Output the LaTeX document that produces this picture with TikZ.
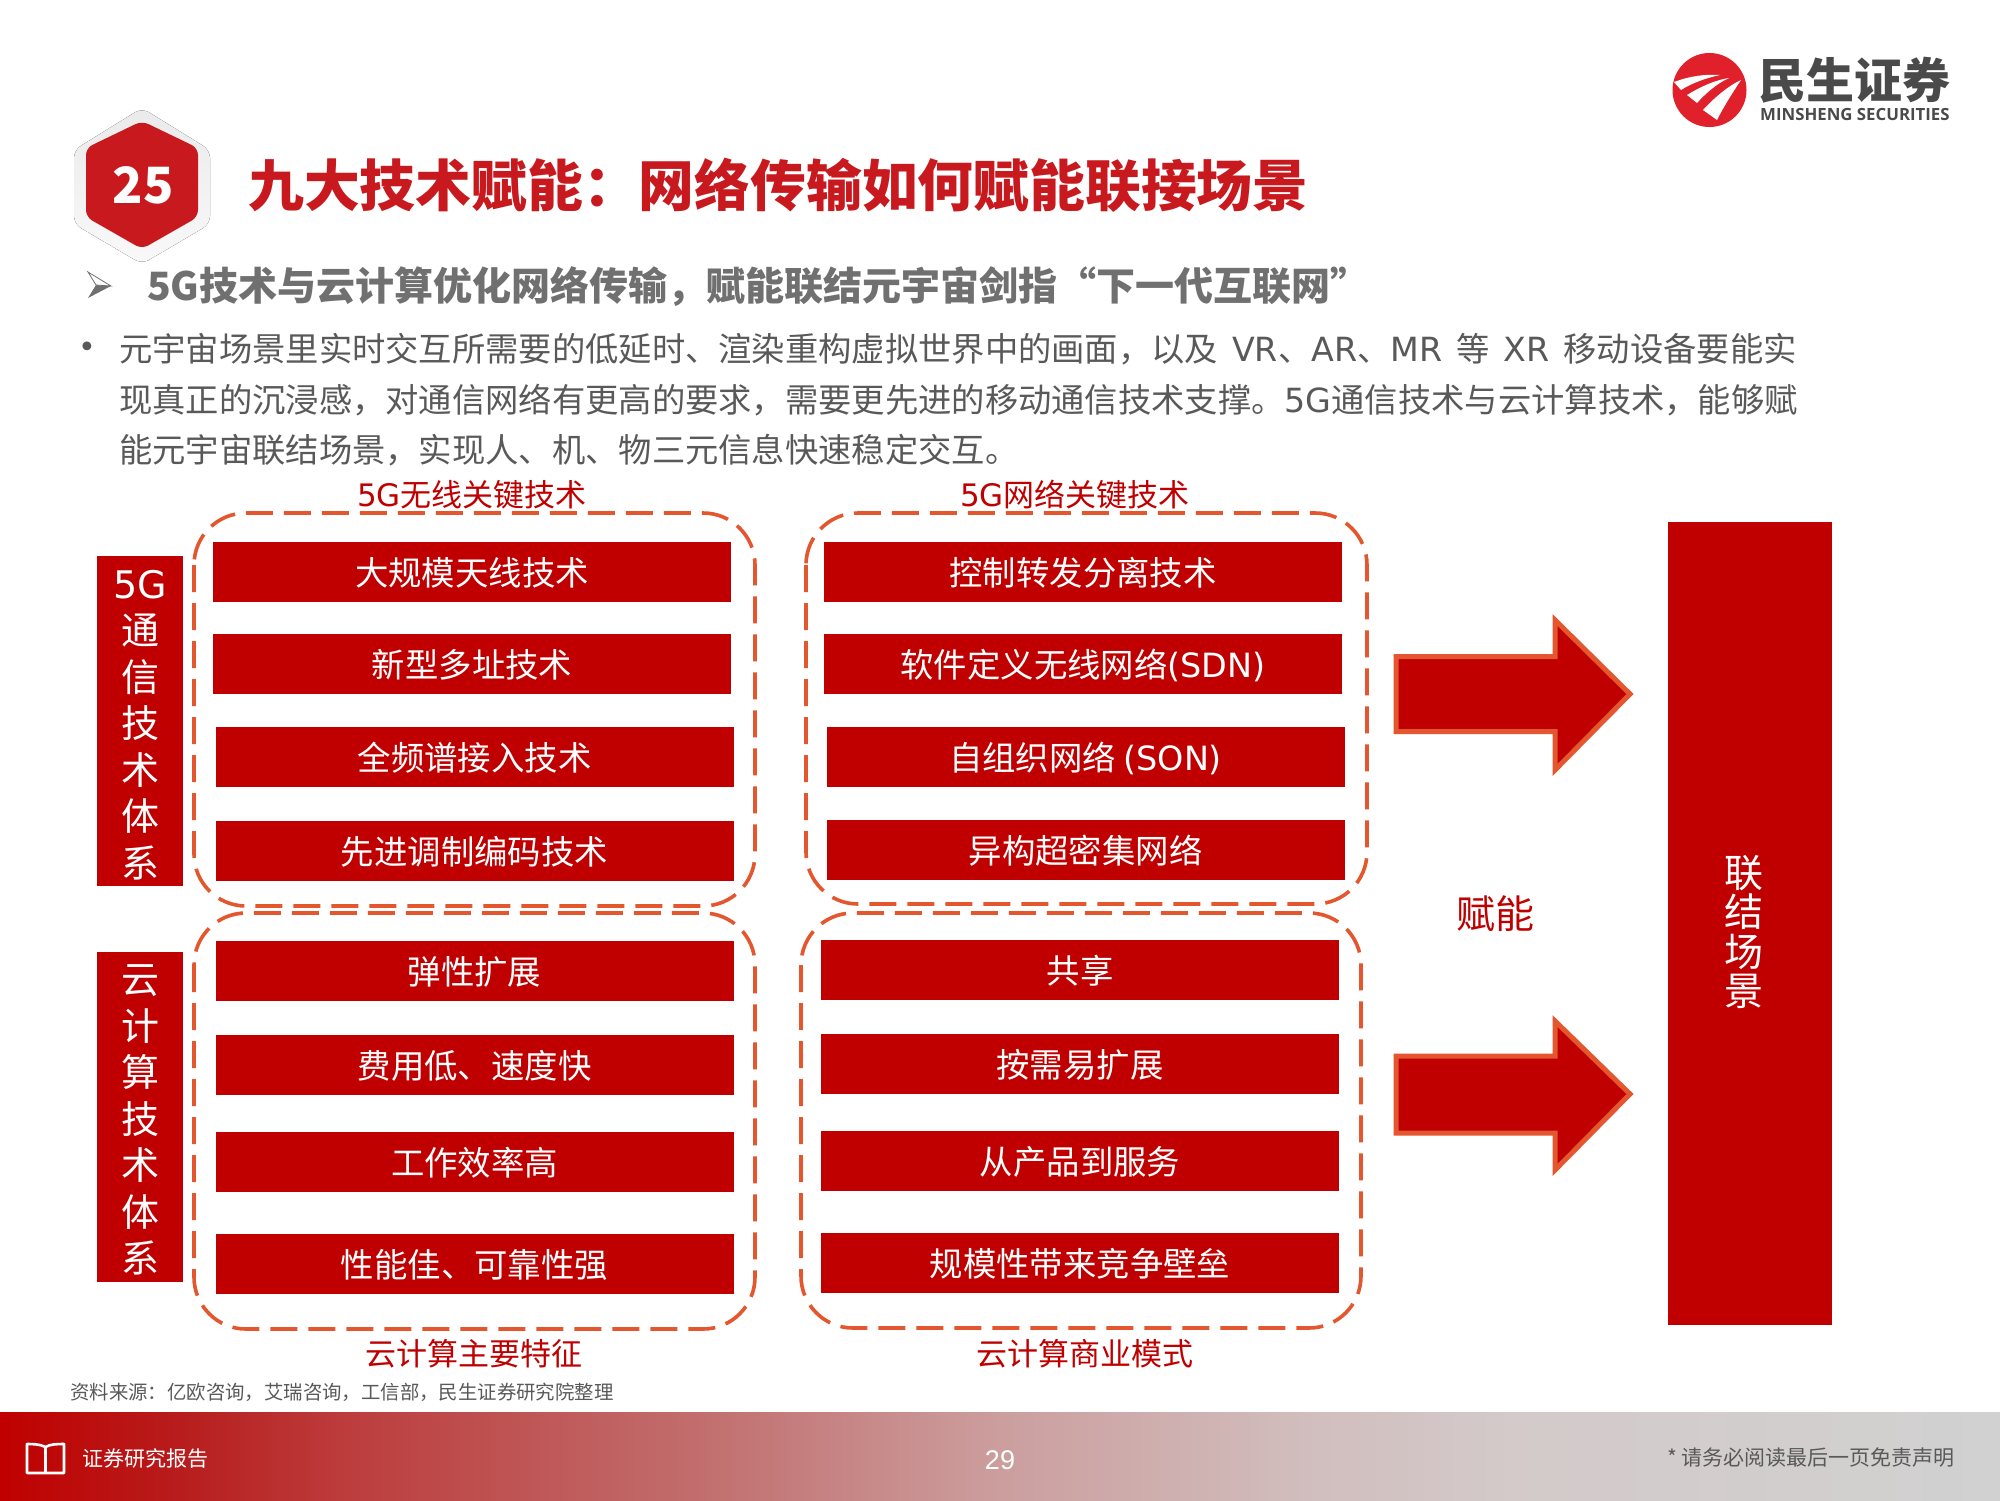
\documentclass[tikz,border=0pt]{standalone}
\usepackage{fontspec}
\setmainfont{Noto Sans CJK SC}
\newfontfamily\dv{DejaVu Sans}
\newfontfamily\arial{Liberation Sans}
\newfontfamily\opsans{Open Sans}
\definecolor{brick}{HTML}{C00000}
\definecolor{dashc}{HTML}{E4572E}
\definecolor{titlec}{HTML}{C8191E}
\definecolor{subc}{HTML}{707070}
\definecolor{bodyc}{HTML}{595959}
\definecolor{logoc}{HTML}{E0202A}
\definecolor{logot}{HTML}{4A4A4A}
\pgfdeclarehorizontalshading{footshade}{100bp}{
  rgb(0bp)=(.753,0,0);
  rgb(25bp)=(.753,0,0);
  rgb(29.4bp)=(.72,.11,.11);
  rgb(33.75bp)=(.74,.24,.24);
  rgb(42.5bp)=(.76,.43,.43);
  rgb(50bp)=(.80,.62,.62);
  rgb(57.5bp)=(.82,.74,.74);
  rgb(62.5bp)=(.83,.79,.79);
  rgb(75bp)=(.82,.82,.82);
  rgb(100bp)=(.82,.82,.82)}
\newcommand{\fs}[1]{\fontsize{#1}{#1}\selectfont}
\newcommand{\fsl}[2]{\fontsize{#1}{#2}\selectfont}
\tikzset{
  bar/.style={fill=brick,text=white,minimum width=518pt,minimum height=60pt,inner sep=0pt,text height=30pt,text depth=3pt,font=\fs{33.4}},
  sidebar/.style={fill=brick,minimum width=86pt,minimum height=330pt,inner sep=0pt},
  sidetext/.style={text=white,inner sep=0pt,align=center,font=\fsl{38}{46.5}},
  dashbox/.style={draw=dashc,line width=3.6pt,rounded corners=52pt,dash pattern=on 27pt off 11pt},
  grouplabel/.style={text=brick,inner sep=0pt,font=\fs{31}},
  bodyline/.style={text=bodyc,anchor=west,inner sep=0pt,font=\fs{33.3}},
  bigarrow/.style={fill=brick,draw=dashc,line width=5pt,miter limit=10},
}
\begin{document}
\begin{tikzpicture}[x=1pt,y=-1pt]
\useasboundingbox (0,0) rectangle (2000,1500);
\fill[white] (0,0) rectangle (2000,1500);
% logo
\fill[logoc] (1709.5,90) circle (37);
\fill[white] (1674,82) .. controls (1690,76) and (1705,74) .. (1720,75) .. controls (1706,78) and (1692,83) .. (1681,90) -- cycle;
\fill[white] (1687,95) .. controls (1700,87) and (1715,80) .. (1729,78) .. controls (1716,84) and (1705,94) .. (1697,103) -- cycle;
\fill[white] (1703,110) .. controls (1714,98) and (1728,86) .. (1741,80) .. controls (1733,92) and (1724,106) .. (1717,120) -- cycle;
\node (logocn) [text=logot,inner sep=0pt,anchor=west,font=\fs{48}\bfseries] at (1758,80) {民生证券};
\node (logoen) [text=logot,inner sep=0pt,anchor=west,font=\opsans\fs{16.8}\bfseries] at (1760,114.5) {MINSHENG SECURITIES};
% hexagon
\fill[top color=gray!16,bottom color=gray!5,rounded corners=8pt] (142,108) -- (210,150) -- (210,224) -- (142,264) -- (74,224) -- (74,150) -- cycle;
\fill[titlec,rounded corners=7pt] (142,121) -- (198,148) -- (198,217) -- (142,249) -- (86,217) -- (86,148) -- cycle;
\node (num) [text=white,inner sep=0pt,font=\fs{50}\bfseries] at (143,185) {25};
% heading
\node (title) [text=titlec,anchor=west,inner sep=0pt,font=\fs{55.8}\bfseries] at (248,185) {九大技术赋能：网络传输如何赋能联接场景};
\fill[subc] (88,298) -- (96,285) -- (111,286) -- cycle;
\draw[subc,line width=0.8pt,fill=white] (88,272) -- (111,286) -- (96,285) -- cycle;
\node (sub) [text=subc,anchor=west,inner sep=0pt,font=\fs{39}\bfseries] at (147,287) {5G技术与云计算优化网络传输，赋能联结元宇宙剑指“下一代互联网”};
\node (dot) [text=bodyc,inner sep=0pt,font=\dv\fs{30}] at (87,350) {•};
\node (l1) [bodyline] at (119,349.5) {元宇宙场景里实时交互所需要的低延时、渲染重构虚拟世界中的画面，以及\hskip 14pt{\dv VR}、{\dv AR}、{\dv MR}\hskip 14pt 等\hskip 14pt{\dv XR}\hskip 14pt 移动设备要能实};
\node (l2) [bodyline] at (119,400.5) {现真正的沉浸感，对通信网络有更高的要求，需要更先进的移动通信技术支撑。{\dv 5G}通信技术与云计算技术，能够赋};
\node (l3) [bodyline] at (119,450) {能元宇宙联结场景，实现人、机、物三元信息快速稳定交互。};
% dashed groups
\draw[dashbox] (194,513) rectangle (755,906);
\draw[dashbox] (806,513) rectangle (1367,904);
\draw[dashbox] (194,913) rectangle (755,1329);
\draw[dashbox] (801,913) rectangle (1361,1328);
% group labels
\node (g1) [grouplabel] at (472,495) {{\dv 5G}无线关键技术};
\node (g2) [grouplabel] at (1075,495) {{\dv 5G}网络关键技术};
\node (g3) [grouplabel] at (474,1354) {云计算主要特征};
\node (g4) [grouplabel] at (1085,1354) {云计算商业模式};
% side bars
\node (s1) [sidebar] at (140,721) {};
\node (s1t) [sidetext] at (140,725) {{\dv 5G}\\通\\信\\技\\术\\体\\系};
\node (s2) [sidebar] at (140,1117) {};
\node (s2t) [sidetext] at (140,1120) {云\\计\\算\\技\\术\\体\\系};
% column 1
\node (a1) [bar] at (472,572) {大规模天线技术};
\node (a2) [bar] at (472,664) {新型多址技术};
\node (a3) [bar] at (474.5,757) {全频谱接入技术};
\node (a4) [bar] at (474.5,851) {先进调制编码技术};
\node (c1) [bar] at (474.5,971) {弹性扩展};
\node (c2) [bar] at (474.5,1065) {费用低、速度快};
\node (c3) [bar] at (474.5,1162) {工作效率高};
\node (c4) [bar] at (474.5,1264) {性能佳、可靠性强};
% column 2
\node (b1) [bar] at (1083,572) {控制转发分离技术};
\node (b2) [bar] at (1083,664) {软件定义无线网络{\dv (SDN)}};
\node (b3) [bar] at (1085.5,757) {自组织网络 {\dv (SON)}};
\node (b4) [bar] at (1085.5,850) {异构超密集网络};
\node (d1) [bar] at (1080,969.5) {共享};
\node (d2) [bar] at (1080,1063.5) {按需易扩展};
\node (d3) [bar] at (1080,1160.5) {从产品到服务};
\node (d4) [bar] at (1080,1262.5) {规模性带来竞争壁垒};
% arrows
\draw[bigarrow] (1396,656.5) -- (1555,656.5) -- (1555,620) -- (1630,694) -- (1555,770) -- (1555,731.5) -- (1396,731.5) -- cycle;
\draw[bigarrow] (1396,1056) -- (1555,1056) -- (1555,1021) -- (1630,1094) -- (1555,1170) -- (1555,1133) -- (1396,1133) -- cycle;
\node (fn) [text=brick,inner sep=0pt,font=\fs{39}] at (1495,914) {赋能};
% right block
\node (r) [fill=brick,minimum width=164pt,minimum height=803pt,inner sep=0pt] at (1750,923.5) {};
\node (rt) [text=white,inner sep=0pt,align=center,font=\fsl{39}{39.5}] at (1744,932) {联\\结\\场\\景};
% source
\node (src) [text=bodyc,anchor=west,inner sep=0pt,font=\fs{19.4}] at (70,1392) {资料来源：亿欧咨询，艾瑞咨询，工信部，民生证券研究院整理};
% footer
\path[shading=footshade] (0,1412) rectangle (2000,1500);
\draw[white,line width=2.6pt,line join=round] (45.5,1447) -- (45.5,1474) (45.5,1447) .. controls (40,1444) and (32,1444) .. (27,1444) -- (27,1473) -- (64,1473) -- (64,1444) .. controls (58,1444) and (50,1444) .. (45.5,1447);
\node (rep) [text=white,anchor=west,inner sep=0pt,font=\fs{21}] at (82,1459) {证券研究报告};
\node (pg) [text=white,inner sep=0pt,font=\arial\fs{27}] at (1000,1460) {29};
\node (disc) [text=bodyc,anchor=east,inner sep=0pt,font=\fs{21}] at (1955,1458) {* 请务必阅读最后一页免责声明};
\end{tikzpicture}
\end{document}
